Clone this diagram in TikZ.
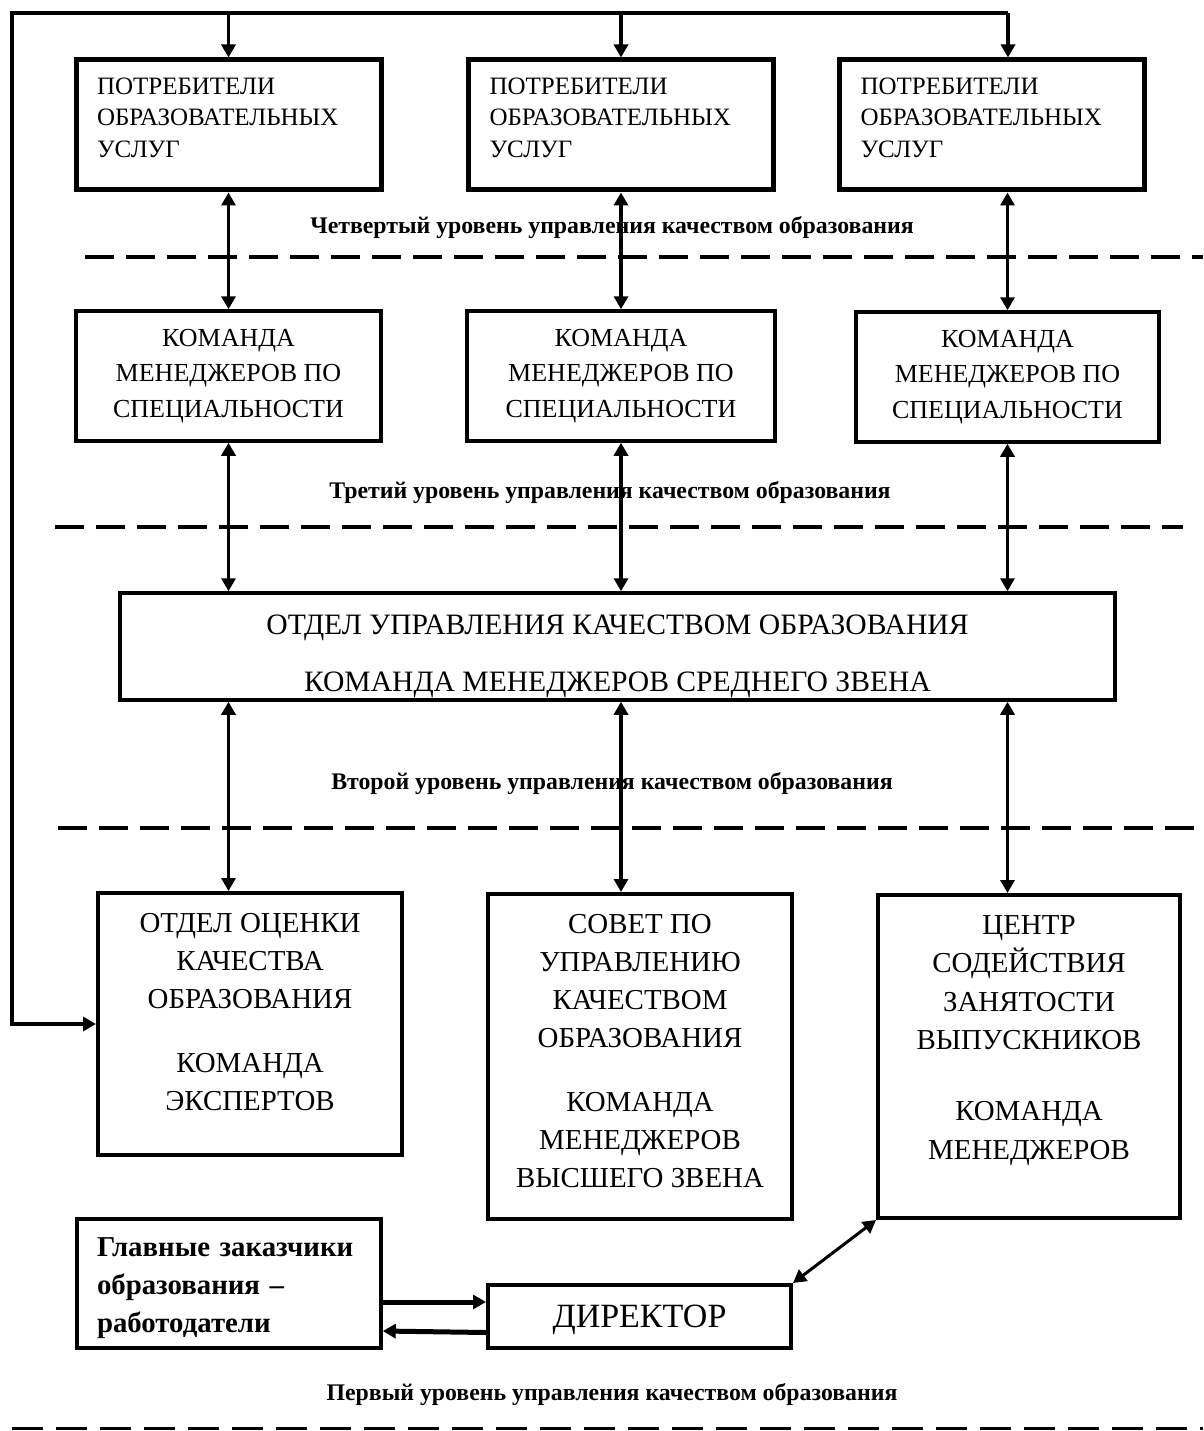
\documentclass[tikz,border=0pt]{standalone}
\usepackage{fontspec}
\setmainfont{Liberation Serif}
\usetikzlibrary{arrows.meta}
\begin{document}
\begin{tikzpicture}[x=1pt,y=-1pt,
  tipA/.tip={Triangle[length=13pt,width=14pt]},
  onearrow/.style={-tipA, line width=3.5pt},
  twoarrow/.style={tipA-tipA, line width=3.5pt},
  topbox/.style={draw, line width=5pt, inner sep=0pt, minimum width=305pt, minimum height=130pt},
  toptext/.style={inner sep=0pt, text width=263pt, align=left, font=\fontsize{25}{31.5}\selectfont},
  kbox/.style={draw, line width=3.5pt, inner sep=0pt, align=center,
    font=\fontsize{26}{35.5}\selectfont},
  midbox/.style={draw, line width=3.5pt, inner sep=0pt},
  midtext/.style={inner sep=0pt, align=center, font=\fontsize{29.6}{57}\selectfont},
  lowbox/.style={draw, line width=4pt, inner sep=0pt},
  lowtext/.style={inner sep=0pt, align=center, font=\fontsize{28.9}{38.3}\selectfont},
  lvl/.style={inner sep=0pt, font=\bfseries\fontsize{23.8}{28}\selectfont},
  levelline/.style={line width=4.5pt, dash pattern=on 29pt off 12pt},
]
\useasboundingbox (0,0) rectangle (1203,1431);

% top boxes
\node[topbox] (T1) at (228.5,125) {};
\node[topbox] (T2) at (621,125) {};
\node[topbox] (T3) at (992,125) {};
\node[toptext] (T1t) at ([yshift=7.5pt]T1.center) {ПОТРЕБИТЕЛИ\\ОБРАЗОВАТЕЛЬНЫХ\\УСЛУГ};
\node[toptext] (T2t) at ([yshift=7.5pt]T2.center) {ПОТРЕБИТЕЛИ\\ОБРАЗОВАТЕЛЬНЫХ\\УСЛУГ};
\node[toptext] (T3t) at ([yshift=7.5pt]T3.center) {ПОТРЕБИТЕЛИ\\ОБРАЗОВАТЕЛЬНЫХ\\УСЛУГ};

% second row
\node[kbox, minimum width=305pt, minimum height=130pt] (K1) at (228.5,376) {КОМАНДА\\МЕНЕДЖЕРОВ ПО\\СПЕЦИАЛЬНОСТИ};
\node[kbox, minimum width=308pt, minimum height=130pt] (K2) at (621,376) {КОМАНДА\\МЕНЕДЖЕРОВ ПО\\СПЕЦИАЛЬНОСТИ};
\node[kbox, minimum width=303pt, minimum height=130pt] (K3) at (1007.5,377) {КОМАНДА\\МЕНЕДЖЕРОВ ПО\\СПЕЦИАЛЬНОСТИ};

% middle
\node[midbox, minimum width=995pt, minimum height=107pt] (M) at (617.5,646.5) {};
\node[midtext] (Mt) at ([yshift=-10pt]M.center) {ОТДЕЛ УПРАВЛЕНИЯ КАЧЕСТВОМ ОБРАЗОВАНИЯ\\КОМАНДА МЕНЕДЖЕРОВ СРЕДНЕГО ЗВЕНА};

% bottom boxes
\node[lowbox, minimum width=304pt, minimum height=262pt] (A) at (250,1024) {};
\node[lowbox, minimum width=304pt, minimum height=325pt] (B) at (640,1056.5) {};
\node[lowbox, minimum width=302pt, minimum height=323pt] (C) at (1029,1056.5) {};
\node[lowtext] (At) at ([yshift=12pt]A.center) {ОТДЕЛ ОЦЕНКИ\\КАЧЕСТВА\\ОБРАЗОВАНИЯ\\[25pt]КОМАНДА\\ЭКСПЕРТОВ};
\node[lowtext] (Bt) at ([yshift=5.5pt]B.center) {СОВЕТ ПО\\УПРАВЛЕНИЮ\\КАЧЕСТВОМ\\ОБРАЗОВАНИЯ\\[25pt]КОМАНДА\\МЕНЕДЖЕРОВ\\ВЫСШЕГО ЗВЕНА};
\node[lowtext] (Ct) at ([yshift=16pt]C.center) {ЦЕНТР\\СОДЕЙСТВИЯ\\ЗАНЯТОСТИ\\ВЫПУСКНИКОВ\\[33pt]КОМАНДА\\МЕНЕДЖЕРОВ};

% employers and director
\node[draw, line width=3.5pt, inner sep=0pt, minimum width=304pt, minimum height=129pt] (G) at (229,1283.5) {};
\node[inner sep=0pt, text width=264pt, align=left, font=\bfseries\fontsize{28.8}{38}\selectfont] (Gt)
  at ([yshift=-5pt]G.center) {Главные заказчики\\образования –\\работодатели};
\node[draw, line width=4pt, inner sep=0pt, minimum width=303pt, minimum height=63pt] (D) at (639.5,1316.5) {};
\node[inner sep=0pt, font=\fontsize{34}{40}\selectfont] (Dt) at ([yshift=-3pt]D.center) {ДИРЕКТОР};

% level labels
\node[lvl] (L4) at (612,228) {Четвертый уровень управления качеством образования};
\node[lvl] (L3) at (610,493) {Третий уровень управления качеством образования};
\node[lvl] (L2) at (612,784) {Второй уровень управления качеством образования};
\node[lvl] (L1) at (612,1395) {Первый уровень управления качеством образования};

% level lines
\draw[levelline] (85,257) -- (1203,257);
\draw[levelline] (55,527) -- (1183,527);
\draw[levelline] (58,828) -- (1203,828);
\draw[line width=3pt, dash pattern=on 31pt off 13pt] (12,1428) -- (1203,1428);

% outer frame
\coordinate (c0) at (12,13);
\coordinate (c3) at (1008,13);
\draw[onearrow, line width=4pt, line join=miter] (c3) -- (c0) -- (c0 |- A.west) -- (A.west);
\draw[onearrow] (c3) -- (c3 |- T3.north);
\draw[onearrow] (T1.north |- c0) -- (T1.north);
\draw[onearrow] (T2.north |- c0) -- (T2.north);

% vertical links
\draw[twoarrow] (T1.south) -- (K1.north);
\draw[twoarrow] (T2.south) -- (K2.north);
\draw[twoarrow] (K3.north |- T3.south) -- (K3.north);
\draw[twoarrow] (K1.south) -- (K1.south |- M.north);
\draw[twoarrow] (K2.south) -- (K2.south |- M.north);
\draw[twoarrow] (K3.south) -- (K3.south |- M.north);
\draw[twoarrow] (K1.south |- M.south) -- (K1.south |- A.north);
\draw[twoarrow] (K2.south |- M.south) -- (K2.south |- B.north);
\draw[twoarrow] (K3.south |- M.south) -- (K3.south |- C.north);

% bottom links
\draw[onearrow, line width=5pt] ([yshift=-18.5pt]G.east) -- ([yshift=-18.5pt]G.east -| D.west);
\draw[onearrow, line width=5pt] ([yshift=-16pt]D.west) -- ([yshift=-47.5pt]G.east);
\draw[twoarrow, line width=3pt] (D.north east) -- (C.south west);
\end{tikzpicture}
\end{document}
